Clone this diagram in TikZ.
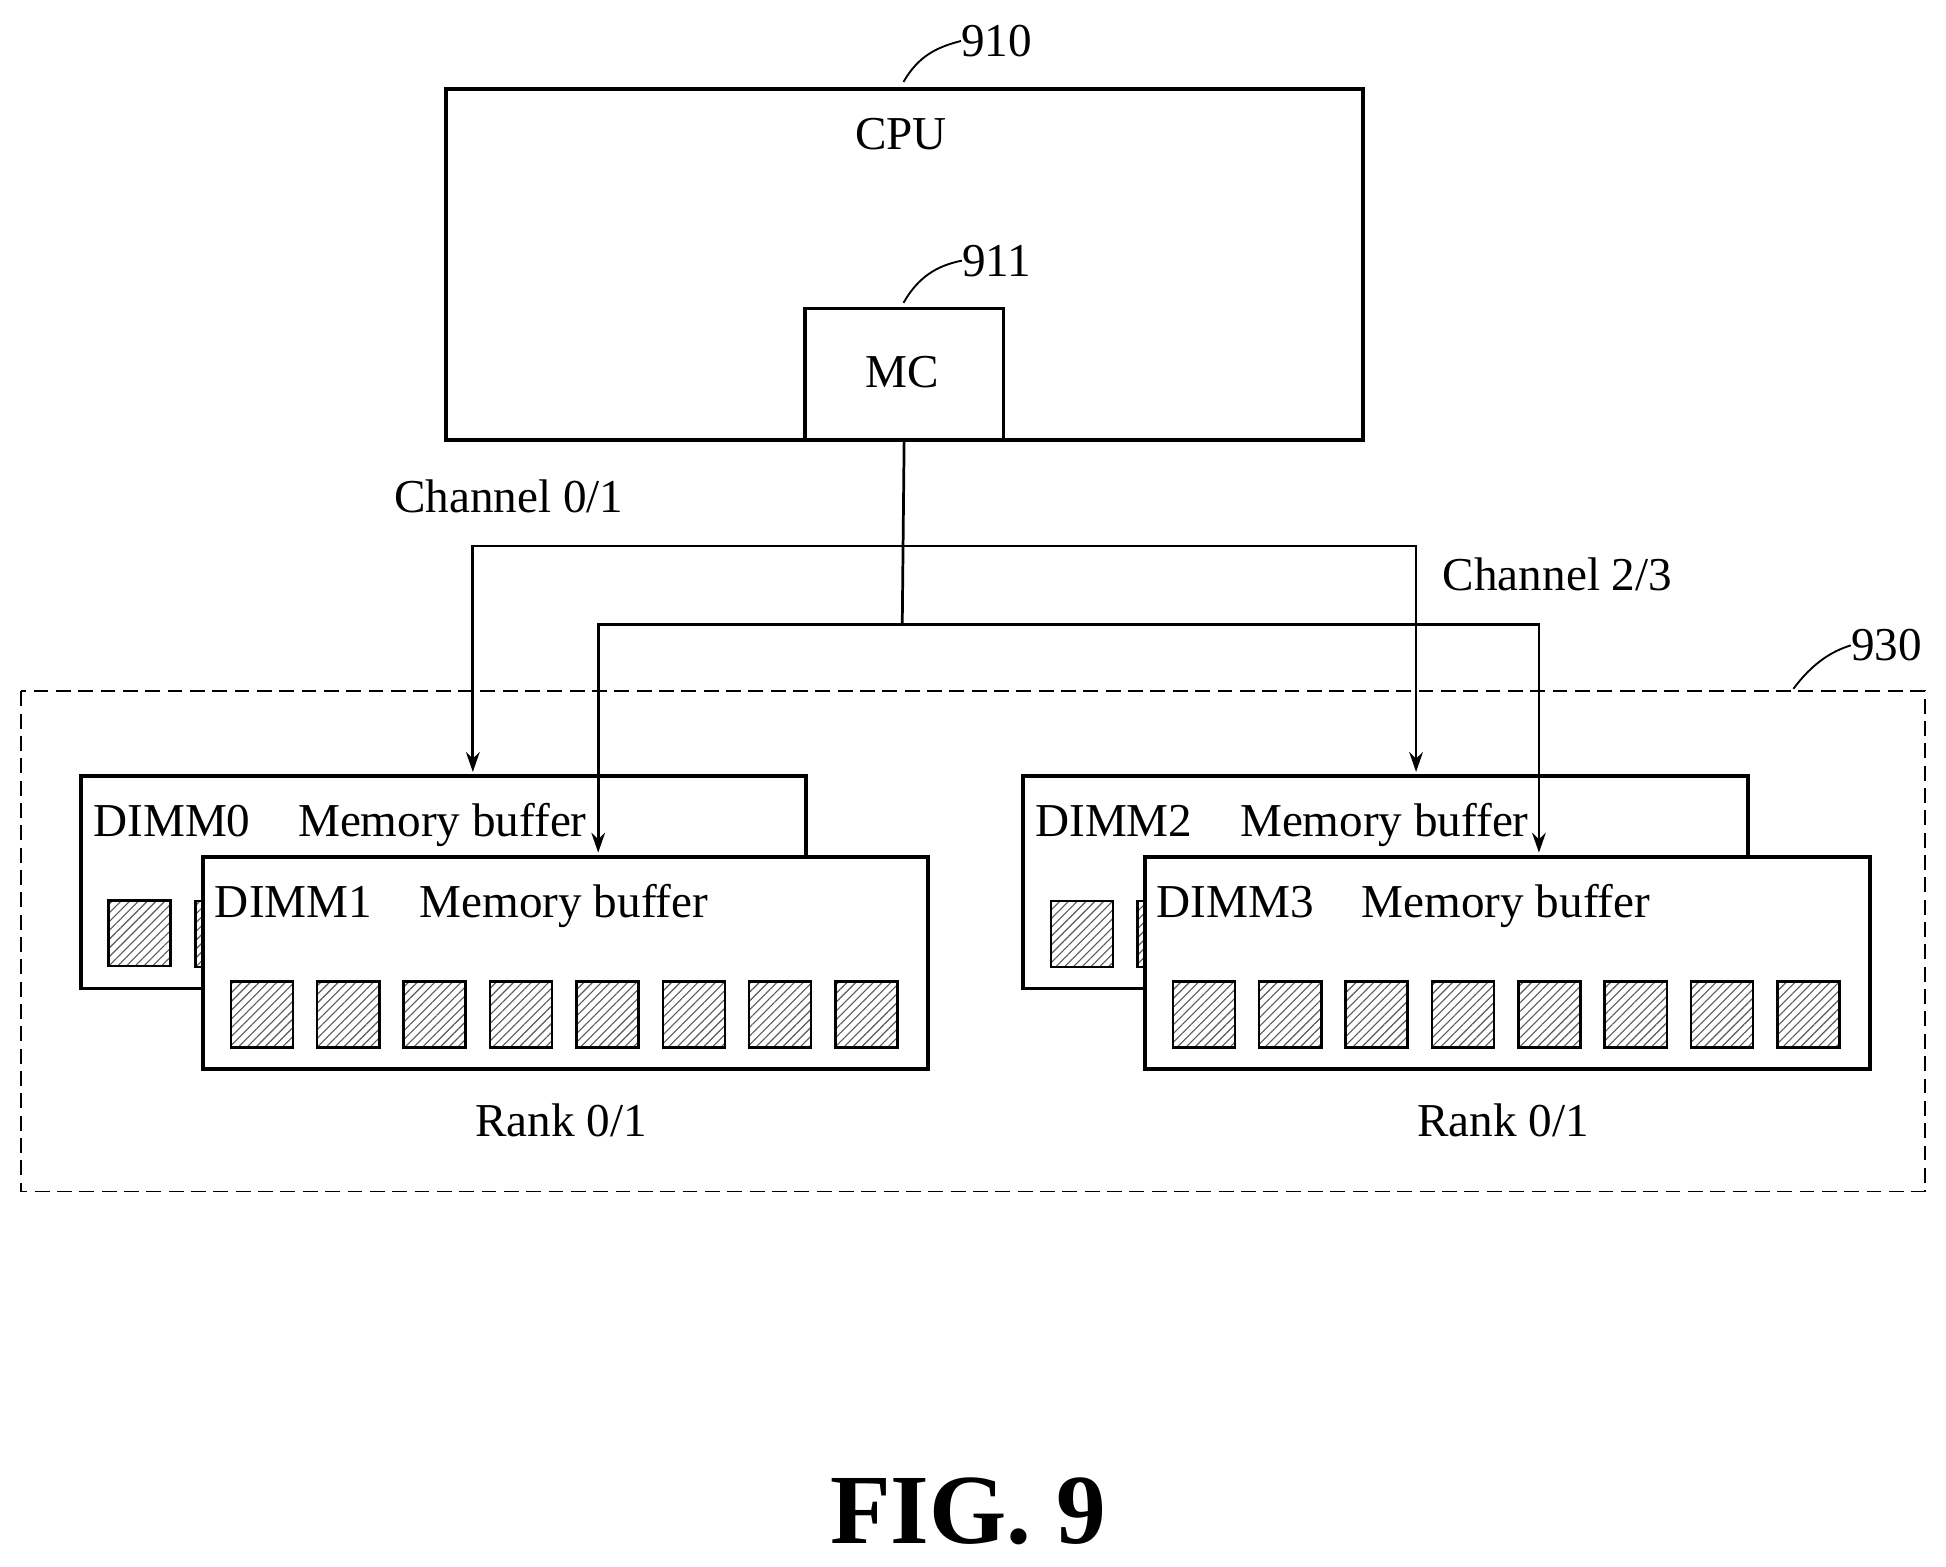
\documentclass[tikz,border=0pt]{standalone}
\usepackage{fontspec}
\setmainfont{Liberation Serif}
\usetikzlibrary{patterns.meta,arrows.meta}
\begin{document}
\begin{tikzpicture}[x=1pt,y=-1pt,
  box/.style={draw,line width=3pt,fill=white},
  lbl/.style={font=\fontsize{38}{44}\selectfont,inner sep=0},
  wire/.style={line width=2.2pt},
  arr/.style={wire,-{Stealth[length=16pt,width=11pt]}},
  chip/.style={draw,line width=2pt,fill=gray!20,pattern={Lines[angle=45,distance=5pt,line width=0.9pt]},pattern color=gray!70!black},
  lead/.style={line width=1.5pt}]
\useasboundingbox (0,0) rectangle (1568,1262);
\node[box,minimum width=739,minimum height=283,anchor=north west] (cpu) at (358,70) {};
\node[lbl] (cput) at (726,108) {CPU};
\node[box,minimum width=160,minimum height=106,anchor=north west] (mc) at (647,247) {};
\node[lbl] (mct) at (727,300) {MC};
\node[lbl] (l910) at (803,33) {910};
\draw[lead] (728,66) .. controls (740,45) and (755,38) .. (l910.west);
\node[lbl] (l911) at (803,210) {911};
\draw[lead] (728,244) .. controls (740,223) and (755,214) .. (l911.west);
\draw[dash pattern=on 12pt off 6pt,line width=1.5pt] (17,557) rectangle (1551,960);
\node[lbl] (l930) at (1520,520) {930};
\draw[lead] (1445,555) .. controls (1460,535) and (1475,525) .. (l930.west);
% DIMMs
\foreach \n/\x/\y in {0/64/624,1/162/689,2/823/624,3/921/689}{
  \node[box,minimum width=584,minimum height=171,anchor=north west] (d\n) at (\x,\y) {};
  \node[lbl,anchor=base west] (dt\n) at (\x+11,\y+50) {DIMM\n};
  \node[lbl,anchor=base west] (mb\n) at (\x+176,\y+50) {Memory buffer};
  \foreach \i in {0,...,7}{
    \node[chip,minimum width=50,minimum height=53,anchor=north west] (c\n\i) at (\x+23+\i*69.6,\y+101) {};
  }
}
% reorder: redraw front DIMMs over back ones
\foreach \n/\x/\y in {1/162/689,3/921/689}{
  \node[box,minimum width=584,minimum height=171,anchor=north west] (f\n) at (\x,\y) {};
  \node[lbl,anchor=base west] (ft\n) at (\x+11,\y+50) {DIMM\n};
  \node[lbl,anchor=base west] (fb\n) at (\x+176,\y+50) {Memory buffer};
  \foreach \i in {0,...,7}{
    \node[chip,minimum width=50,minimum height=53,anchor=north west] (g\n\i) at (\x+23+\i*69.6,\y+101) {};
  }
}
\node[lbl] (r0) at (452,903) {Rank 0/1};
\node[lbl] (r1) at (1211,903) {Rank 0/1};
\node[lbl] (ch01) at (410,400) {Channel 0/1};
\node[lbl] (ch23) at (1255,463) {Channel 2/3};
% wires
\coordinate (m1) at (727,440);
\coordinate (m2) at (727,503);
\draw[wire] (mc.south) -- (m2);
\draw[arr] (m1) -- (381,440) -- (381,622);
\draw[arr] (m1) -- (1141,440) -- (1141,622);
\draw[arr] (m2) -- (482,503) -- (482,687);
\draw[arr] (m2) -- (1240,503) -- (1240,687);
\node[font=\bfseries\fontsize{80}{90}\selectfont,inner sep=0] (fig) at (780,1218) {FIG. 9};
\end{tikzpicture}
\end{document}
